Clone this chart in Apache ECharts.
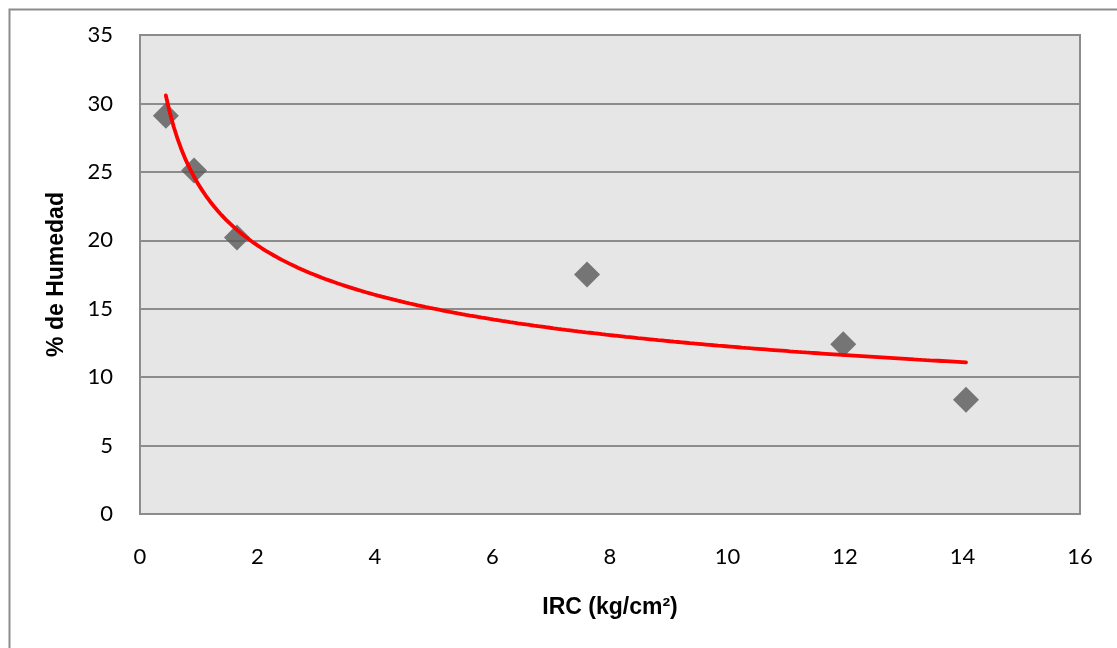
<!DOCTYPE html>
<html>
<head>
<meta charset="utf-8">
<script src="https://cdn.jsdelivr.net/npm/echarts@6/dist/echarts.min.js"></script>
<style>
  html, body { margin: 0; padding: 0; background: #ffffff; }
  #chart { width: 1117px; height: 648px; }
</style>
</head>
<body>
<div id="chart"></div>
<script>
// Measured samples: compaction index (kg/cm²) vs. moisture content (%)
const irc = [0.44, 0.92, 1.65, 7.61, 11.97, 14.06];
const humedad = [29.1, 25.1, 20.2, 17.5, 12.4, 8.35];

const xTicks = [0, 2, 4, 6, 8, 10, 12, 14, 16];
const yTicks = [0, 5, 10, 15, 20, 25, 30, 35];

// Power trendline y = a * x^b, least-squares fit on ln(x), ln(y)
function powerFit(xs, ys) {
  const lx = xs.map(Math.log), ly = ys.map(Math.log);
  const n = xs.length;
  const mx = lx.reduce((s, v) => s + v, 0) / n;
  const my = ly.reduce((s, v) => s + v, 0) / n;
  let sxy = 0, sxx = 0;
  for (let i = 0; i < n; i++) {
    sxy += (lx[i] - mx) * (ly[i] - my);
    sxx += (lx[i] - mx) * (lx[i] - mx);
  }
  const b = sxy / sxx;
  const a = Math.exp(my - b * mx);
  return { a, b };
}
const fit = powerFit(irc, humedad);
const xMin = Math.min(...irc), xMax = Math.max(...irc);
const trend = [];
for (let i = 0; i <= 200; i++) {
  const x = xMin + (xMax - xMin) * i / 200;
  trend.push([x, fit.a * Math.pow(x, fit.b)]);
}

const chart = echarts.init(document.getElementById('chart'), null, { renderer: 'canvas' });
const tickFont = { fontFamily: 'Lato, "Open Sans", sans-serif', fontSize: 22, color: '#000000' };
const titleFont = { fontFamily: '"Liberation Sans", Arial, sans-serif', fontWeight: 'bold', fontSize: 23, color: '#000000' };

chart.setOption({
  animation: false,
  backgroundColor: '#ffffff',
  graphic: [
    {
      type: 'rect', left: 7, top: 7, z: -10,
      shape: { width: 1200, height: 700 },
      style: { fill: 'none', stroke: '#8c8c8c', lineWidth: 2 }
    }
  ],
  grid: {
    left: 140, right: 37, top: 35, bottom: 134,
    show: true, backgroundColor: '#e6e6e6', borderColor: '#8c8c8c', borderWidth: 2
  },
  xAxis: {
    type: 'value', min: xTicks[0], max: xTicks[xTicks.length - 1], interval: 2,
    name: 'IRC (kg/cm²)', nameLocation: 'middle', nameGap: 82,
    nameTextStyle: titleFont,
    axisLine: { show: true, onZero: false, lineStyle: { color: '#8c8c8c', width: 2 } },
    axisTick: { show: false },
    splitLine: { show: false },
    axisLabel: Object.assign({ margin: 32 }, tickFont)
  },
  yAxis: {
    type: 'value', min: yTicks[0], max: yTicks[yTicks.length - 1], interval: 5,
    name: '% de Humedad', nameLocation: 'middle', nameGap: 72, nameRotate: 90,
    nameTextStyle: titleFont,
    axisLine: { show: true, lineStyle: { color: '#8c8c8c', width: 2 } },
    axisTick: { show: false },
    splitLine: { show: true, lineStyle: { color: '#8c8c8c', width: 2 } },
    axisLabel: Object.assign({ margin: 27 }, tickFont)
  },
  series: [
    {
      name: 'Humedad', type: 'scatter',
      data: irc.map((x, i) => [x, humedad[i]]),
      symbol: 'diamond', symbolSize: 26,
      itemStyle: { color: '#595959' },
      z: 2
    },
    {
      name: 'Potencial', type: 'line',
      data: trend, showSymbol: false, symbol: 'none', smooth: false,
      lineStyle: { color: '#ff0000', width: 3.8, cap: 'round' },
      z: 3
    }
  ]
});
</script>
</body>
</html>
